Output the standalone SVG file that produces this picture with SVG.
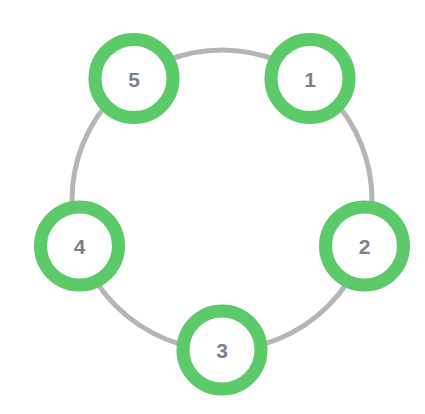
<svg xmlns="http://www.w3.org/2000/svg" width="425" height="414" viewBox="0 0 425 414">
<style>
.ring{fill:#ffffff;stroke:#5dca6a;stroke-width:13}
.lbl{font-family:"Liberation Sans",Arial,sans-serif;font-weight:bold;font-size:21px;fill:#7b808b;text-anchor:middle;dominant-baseline:central}
</style>
<rect width="425" height="414" fill="#ffffff"/>
<g id="connectors">
<circle cx="222" cy="200" r="150" fill="none" stroke="#b5b5b5" stroke-width="5"/>
</g>
<g id="node1"><circle class="ring" cx="310" cy="78.5" r="39"/><text class="lbl" x="310" y="79">1</text></g>
<g id="node2"><circle class="ring" cx="364.5" cy="246" r="39"/><text class="lbl" x="364.5" y="246.5">2</text></g>
<g id="node3"><circle class="ring" cx="222" cy="350" r="39"/><text class="lbl" x="222" y="350.5">3</text></g>
<g id="node4"><circle class="ring" cx="79.5" cy="246" r="39"/><text class="lbl" x="79.5" y="246.5">4</text></g>
<g id="node5"><circle class="ring" cx="134" cy="78.5" r="39"/><text class="lbl" x="134" y="79">5</text></g>
</svg>
